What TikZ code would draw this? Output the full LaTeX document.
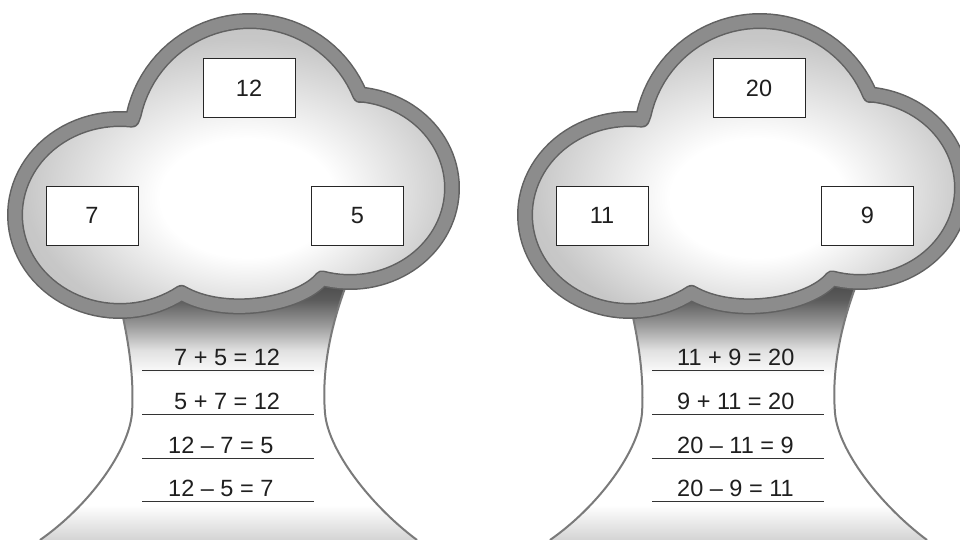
\documentclass[tikz,border=0pt]{standalone}
\usepackage{fontspec}
\setmainfont{Liberation Sans}
\pgfdeclareverticalshading{trunkshade}{100bp}{color(0bp)=(black!17); color(25bp)=(black!17); color(31.6bp)=(white); color(56bp)=(white); color(60.8bp)=(black!12); color(65.6bp)=(black!40); color(70.3bp)=(black!64); color(75bp)=(black!74); color(100bp)=(black!74)}
\pgfdeclareradialshading{cloudshade}{\pgfpoint{2bp}{-6bp}}{color(0bp)=(white); color(10bp)=(white); color(25bp)=(black!22); color(50bp)=(black!28)}
\colorlet{bandedge}{black!62}
\colorlet{bandfill}{black!45}
\colorlet{ink}{black!88}
\newcommand\treeshapes{%
  \path[shade, shading=trunkshade] (118,295) .. controls (130,345) and (134,380) .. (132,413) .. controls (129,450) and (90,505) .. (40,540) -- (417,540) .. controls (370,505) and (328,450) .. (325,413) .. controls (322,375) and (328,330) .. (350,275) -- cycle;
  \draw[trunkline] (118,295) .. controls (130,345) and (134,380) .. (132,413) .. controls (129,450) and (90,505) .. (40,540);
  \draw[trunkline] (417,540) .. controls (370,505) and (328,450) .. (325,413) .. controls (322,375) and (328,330) .. (350,275);
  \path[shade, shading=cloudshade, cloudpath];
  \draw[line width=16pt, draw=bandedge, line join=round, cloudpath];
  \draw[line width=13pt, draw=bandfill, line join=round, cloudpath];
}
\begin{document}
\begin{tikzpicture}[x=1pt,y=-1pt,
  numbox/.style={draw=black!85, line width=1pt, fill=white, minimum width=92pt, minimum height=59pt, inner sep=0pt, font=\fontsize{23.5}{28}\selectfont, text=ink},
  eqtext/.style={anchor=base west, inner sep=0pt, font=\fontsize{23.5}{28}\selectfont, text=ink},
  eqline/.style={draw=black!80, line width=1.1pt},
  trunkline/.style={draw=black!52, line width=2pt},
  cloudpath/.style={insert path={plot[domain=192.4:337.8,samples=40] ({250+119*cos(\x)},{140+119*sin(\x)}) -- plot[domain=275.7:465.9,samples=60] ({350+102*cos(\x)},{188+94*sin(\x)}) .. controls (300,305) and (225,318) .. (181.4,292.9) -- plot[domain=54.2:276.5,samples=60] ({120+105*cos(\x)},{215+96*sin(\x)}) -- cycle}}
]
\useasboundingbox (0,0) rectangle (960,540);
\clip (0,0) rectangle (960,540);

% ---------- left tree ----------
\begin{scope}
\treeshapes
\node[numbox] (Atop) at (249,88) {12};
\node[numbox] (Aleft) at (92,215.5) {7};
\node[numbox] (Aright) at (357.5,215.5) {5};
\node[eqtext] (Ae1) at (174,365.5) {7 + 5 = 12};
\node[eqtext] (Ae2) at (174,409.5) {5 + 7 = 12};
\node[eqtext] (Ae3) at (168,453.5) {12 – 7 = 5};
\node[eqtext] (Ae4) at (168,496.5) {12 – 5 = 7};
\coordinate (Al1a) at (142,370.5); \coordinate (Al1b) at (314,370.5);
\coordinate (Al2a) at (142,414.5); \coordinate (Al2b) at (314,414.5);
\coordinate (Al3a) at (142,458.5); \coordinate (Al3b) at (314,458.5);
\coordinate (Al4a) at (142,501.5); \coordinate (Al4b) at (314,501.5);
\draw[eqline] (Al1a) -- (Al1b);
\draw[eqline] (Al2a) -- (Al2b);
\draw[eqline] (Al3a) -- (Al3b);
\draw[eqline] (Al4a) -- (Al4b);
\end{scope}

% ---------- right tree ----------
\begin{scope}[xshift=510pt]
\treeshapes
\node[numbox] (Btop) at (249,88) {20};
\node[numbox] (Bleft) at (92,215.5) {11};
\node[numbox] (Bright) at (357.5,215.5) {9};
\node[eqtext] (Be1) at (167,365.5) {11 + 9 = 20};
\node[eqtext] (Be2) at (167,409.5) {9 + 11 = 20};
\node[eqtext] (Be3) at (167,453.5) {20 – 11 = 9};
\node[eqtext] (Be4) at (167,496.5) {20 – 9 = 11};
\coordinate (Bl1a) at (142,370.5); \coordinate (Bl1b) at (314,370.5);
\coordinate (Bl2a) at (142,414.5); \coordinate (Bl2b) at (314,414.5);
\coordinate (Bl3a) at (142,458.5); \coordinate (Bl3b) at (314,458.5);
\coordinate (Bl4a) at (142,501.5); \coordinate (Bl4b) at (314,501.5);
\draw[eqline] (Bl1a) -- (Bl1b);
\draw[eqline] (Bl2a) -- (Bl2b);
\draw[eqline] (Bl3a) -- (Bl3b);
\draw[eqline] (Bl4a) -- (Bl4b);
\end{scope}
\end{tikzpicture}
\end{document}
